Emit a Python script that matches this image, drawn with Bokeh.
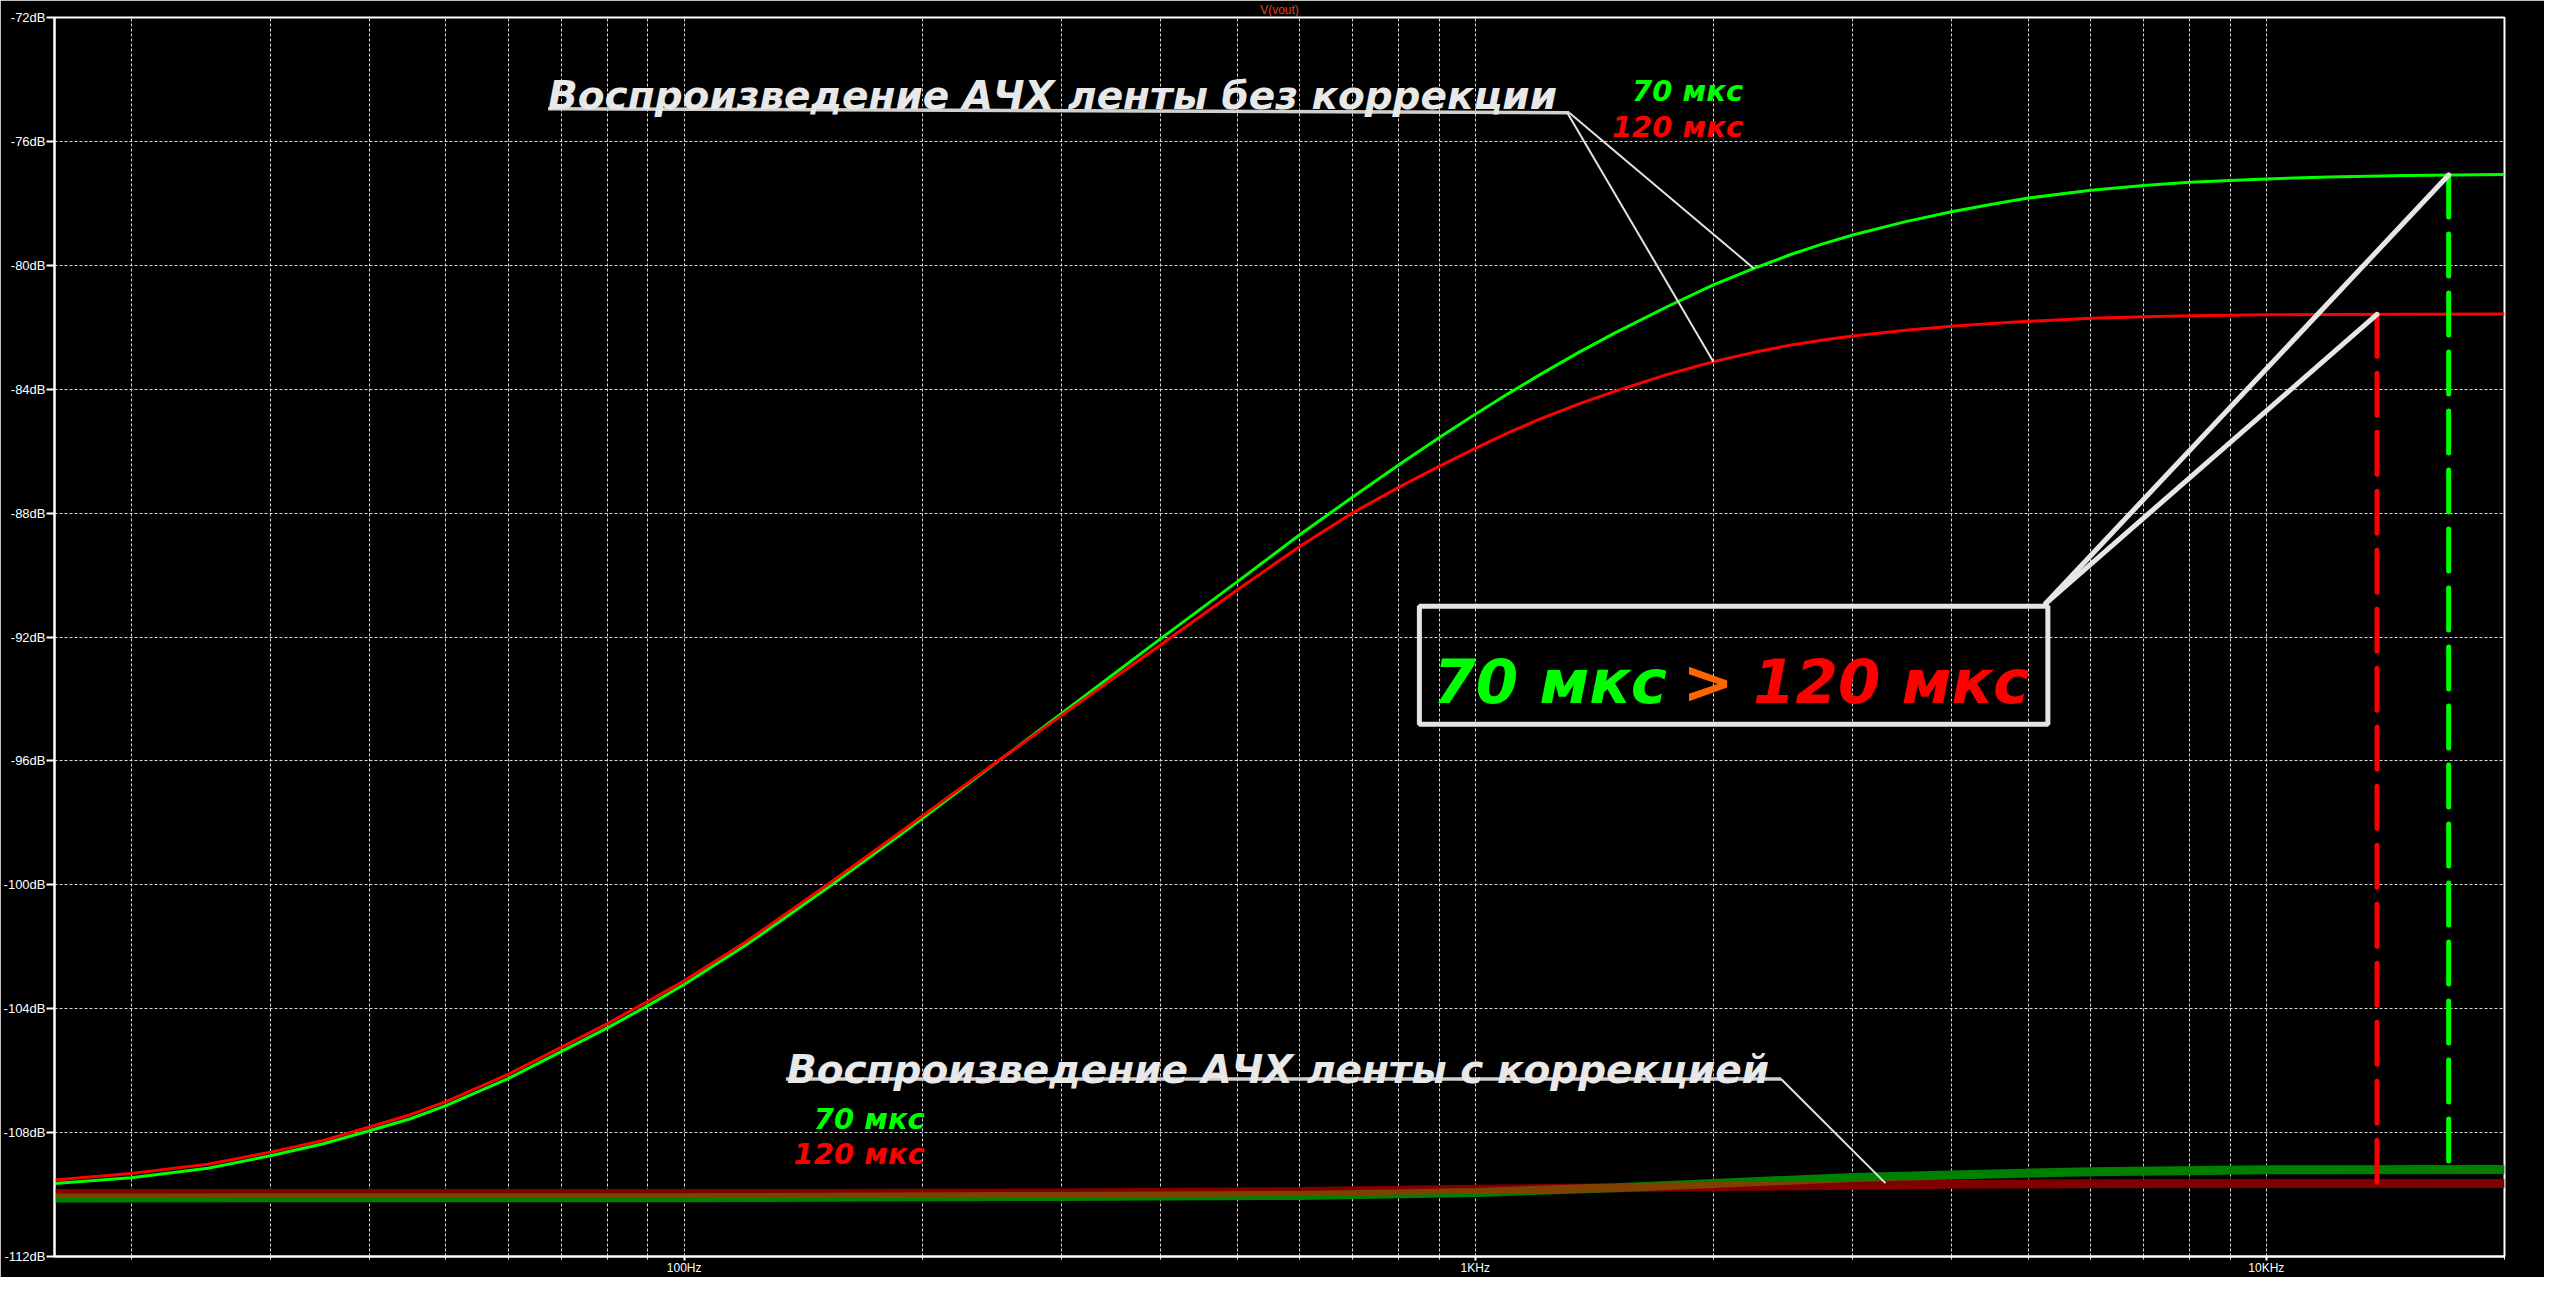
import numpy as np
from bokeh.plotting import figure
from bokeh.models import FixedTicker, Label, BoxAnnotation
from bokeh.embed import file_html
from bokeh.resources import INLINE

# ---------------- data ----------------
freq_hz = [16, 20, 25, 30, 35, 40, 45, 50, 60, 70, 80, 90, 100, 120, 150, 175, 200,
           250, 300, 350, 400, 500, 600, 700, 800, 900, 1000, 1100, 1200, 1350, 1500,
           1750, 2000, 2250, 2500, 2750, 3000, 3500, 4000, 4500, 5000, 6000, 7000,
           8000, 9000, 10000, 12000, 15000, 20000]

# tape playback response without correction, 70 us (green)
green_70us_db = [-109.64, -109.46, -109.15, -108.75, -108.36, -107.94, -107.56, -107.13,
                 -106.25, -105.38, -104.62, -103.90, -103.22, -101.93, -100.19, -98.95,
                 -97.86, -95.99, -94.47, -93.18, -92.06, -90.22, -88.70, -87.48, -86.45,
                 -85.57, -84.81, -84.15, -83.57, -82.82, -82.19, -81.33, -80.63, -80.10,
                 -79.66, -79.31, -79.02, -78.59, -78.27, -78.03, -77.83, -77.58, -77.42,
                 -77.32, -77.26, -77.21, -77.15, -77.10, -77.07]

# tape playback response without correction, 120 us (red)
red_120us_db = [-109.53, -109.32, -109.02, -108.63, -108.25, -107.82, -107.43, -107.00,
                -106.11, -105.24, -104.48, -103.76, -103.10, -101.82, -100.09, -98.86,
                -97.78, -95.98, -94.53, -93.31, -92.26, -90.48, -89.08, -87.99, -87.17,
                -86.49, -85.91, -85.41, -84.99, -84.48, -84.07, -83.52, -83.11, -82.81,
                -82.58, -82.41, -82.28, -82.10, -81.97, -81.88, -81.81, -81.71, -81.66,
                -81.63, -81.61, -81.60, -81.59, -81.58, -81.57]

# playback with correction
freq_corr_hz = [16, 100, 300, 600, 1000, 1500, 2000, 3000, 4000, 6000, 10000, 20000]
green_70us_corr_db = [-110.11, -110.10, -110.06, -110.03, -109.93, -109.78, -109.64,
                      -109.45, -109.37, -109.26, -109.20, -109.19]
red_120us_corr_db = [-109.97, -109.97, -109.95, -109.90, -109.83, -109.78, -109.74,
                     -109.70, -109.67, -109.65, -109.64, -109.64]

# marked frequencies (dashed verticals) and leader targets
marker_freq_70 = 17000
marker_freq_120 = 13800
lead_freq_green = 2250
lead_freq_red = 2000
lead_freq_corr = 3300

x_major_ticks = [100, 1000, 10000]
x_major_labels = ["100Hz", "1KHz", "10KHz"]
x_minor_ticks = [m * d for d in (10, 100, 1000, 10000) for m in range(2, 10)
                 if 16 <= m * d <= 20000]
y_ticks = [-112, -108, -104, -100, -96, -92, -88, -84, -80, -76, -72]
y_labels = ["-112dB", "-108dB", "-104dB", "-100dB", "-96dB", "-92dB", "-88dB",
            "-84dB", "-80dB", "-76dB", "-72dB"]

F0, F1 = 16, 20000
DB_TOP, DB_BOT = -72, -112

# ---------------- helpers for annotation placement ----------------
RX0, RX1, RY0, RY1 = 52, 2504, 18, 1268   # reference frame in pixels


def fx(px):
    return 10 ** (np.log10(F0) + (px - RX0) / (RX1 - RX0) * np.log10(F1 / F0))


def fy(py):
    return DB_TOP - (py - RY0) / (RY1 - RY0) * (DB_TOP - DB_BOT)


def at(f, fs, vs):
    return float(np.interp(np.log10(f), np.log10(fs), vs))


# ---------------- figure ----------------
p = figure(width=2544, height=1277, x_axis_type="log", x_range=(F0, F1),
           y_range=(DB_BOT, DB_TOP), output_backend="svg", toolbar_location=None,
           background_fill_color="black", border_fill_color="black",
           min_border_left=52, min_border_right=40, min_border_top=17,
           min_border_bottom=18, title="V(vout)")
p.title.align = "center"
p.title.text_color = "#E8401C"
p.title.text_font = "Liberation Sans"
p.title.text_font_style = "normal"
p.title.text_font_size = "12px"
p.title.standoff = 1
p.outline_line_color = "white"
p.outline_line_width = 2

xt = FixedTicker(ticks=x_major_ticks, minor_ticks=x_minor_ticks)
yt = FixedTicker(ticks=y_ticks)
p.xaxis.ticker = xt
p.yaxis.ticker = yt
p.xgrid.ticker = xt
p.ygrid.ticker = yt
p.xaxis.major_label_overrides = dict(zip(x_major_ticks, x_major_labels))
p.yaxis.major_label_overrides = dict(zip(y_ticks, y_labels))

for ax in (p.xaxis[0], p.yaxis[0]):
    ax.axis_line_color = "white"
    ax.axis_line_width = 2
    ax.major_tick_line_color = "white"
    ax.major_tick_line_width = 2
    ax.minor_tick_line_color = "white"
    ax.minor_tick_line_width = 1
    ax.major_tick_in = 0
    ax.minor_tick_in = 0
    ax.major_label_text_color = "white"
    ax.major_label_text_font = "Liberation Sans"

p.yaxis.major_label_text_font_size = "13px"
p.yaxis.major_tick_out = 8
p.yaxis.major_label_standoff = 1
p.xaxis.major_label_text_font_size = "12px"
p.xaxis.major_tick_out = 4
p.xaxis.minor_tick_out = 3
p.xaxis.major_label_standoff = 0

for g in (p.xgrid[0], p.ygrid[0]):
    g.grid_line_color = "#DADADA"
    g.grid_line_width = 1
    g.grid_line_dash = "3 2"
p.xgrid.minor_grid_line_color = "#DADADA"
p.xgrid.minor_grid_line_width = 1
p.xgrid.minor_grid_line_dash = "3 2"

# corrected (thick) responses: black underlay, then semi-transparent colours
p.line(freq_corr_hz, green_70us_corr_db, line_color="black", line_width=9)
p.line(freq_corr_hz, red_120us_corr_db, line_color="black", line_width=9)
p.line(freq_corr_hz, green_70us_corr_db, line_color="#00FF00", line_alpha=0.5, line_width=9)
p.line(freq_corr_hz, red_120us_corr_db, line_color="#FF0000", line_alpha=0.5, line_width=9)

# uncorrected responses
p.line(freq_hz, green_70us_db, line_color="#00FF00", line_width=3)
p.line(freq_hz, red_120us_db, line_color="#FF0000", line_width=3)

# dashed verticals
g_top = at(marker_freq_70, freq_hz, green_70us_db)
g_bot = at(marker_freq_70, freq_corr_hz, green_70us_corr_db)
r_top = at(marker_freq_120, freq_hz, red_120us_db)
r_bot = at(marker_freq_120, freq_corr_hz, red_120us_corr_db)
p.line([marker_freq_120, marker_freq_120], [r_top, r_bot], line_color="#FF0000",
       line_width=5, line_dash="42 17", line_cap="round")
p.line([marker_freq_70, marker_freq_70], [g_top, g_bot], line_color="#00FF00",
       line_width=5, line_dash="42 17", line_cap="round")

LEAD = "#E2E2E2"
# top annotation: underline + leaders
p.line([fx(546), fx(1568)], [fy(110), fy(114)], line_color="#D0D0D0", line_width=3.5)
p.line([fx(1568), lead_freq_green], [fy(114), at(lead_freq_green, freq_hz, green_70us_db)],
       line_color=LEAD, line_width=2)
p.line([fx(1566), lead_freq_red], [fy(114), at(lead_freq_red, freq_hz, red_120us_db)],
       line_color=LEAD, line_width=2)

# bottom annotation: underline + leader
p.line([fx(784), fx(1780)], [fy(1089), fy(1089)], line_color="#D0D0D0", line_width=3.5)
p.line([fx(1780), lead_freq_corr],
       [fy(1089), at(lead_freq_corr, freq_corr_hz, red_120us_corr_db) + 0.06],
       line_color=LEAD, line_width=2)

# box leaders
p.line([fx(2045), marker_freq_70], [fy(609), g_top], line_color="#E6E6E6",
       line_width=5, line_cap="round")
p.line([fx(2045), marker_freq_120], [fy(609), r_top], line_color="#E6E6E6",
       line_width=5, line_cap="round")

p.add_layout(BoxAnnotation(left=fx(1418), right=fx(2047), top=fy(612), bottom=fy(731),
                           fill_alpha=0, line_alpha=1, line_color="#E4E4E4",
                           line_width=5))


def lab(px, py, text, color, size, align="left", style="bold italic", font="DejaVu Sans"):
    p.add_layout(Label(x=fx(px), y=fy(py), text=text, text_color=color,
                       text_font_size=f"{size}px", text_font=font,
                       text_font_style=style, text_align=align,
                       text_baseline="alphabetic"))


TXT = "#E8E8E8"
lab(546, 97, "Воспроизведение АЧХ ленты без коррекции", TXT, 39)
lab(1742, 92, "70 мкс", "#00FF00", 29, align="right")
lab(1742, 128, "120 мкс", "#FF0000", 29, align="right")

lab(785, 1079, "Воспроизведение АЧХ ленты с коррекцией", TXT, 39)
lab(923, 1129, "70 мкс", "#00FF00", 29, align="right")
lab(923, 1165, "120 мкс", "#FF0000", 29, align="right")

lab(1432, 688, "70 мкс", "#00FF00", 61)
lab(1707, 688, ">", "#FF6600", 61, align="center")
lab(1752, 688, "120 мкс", "#FF0000", 61)

open("out.html", "w").write(file_html(p, INLINE))
